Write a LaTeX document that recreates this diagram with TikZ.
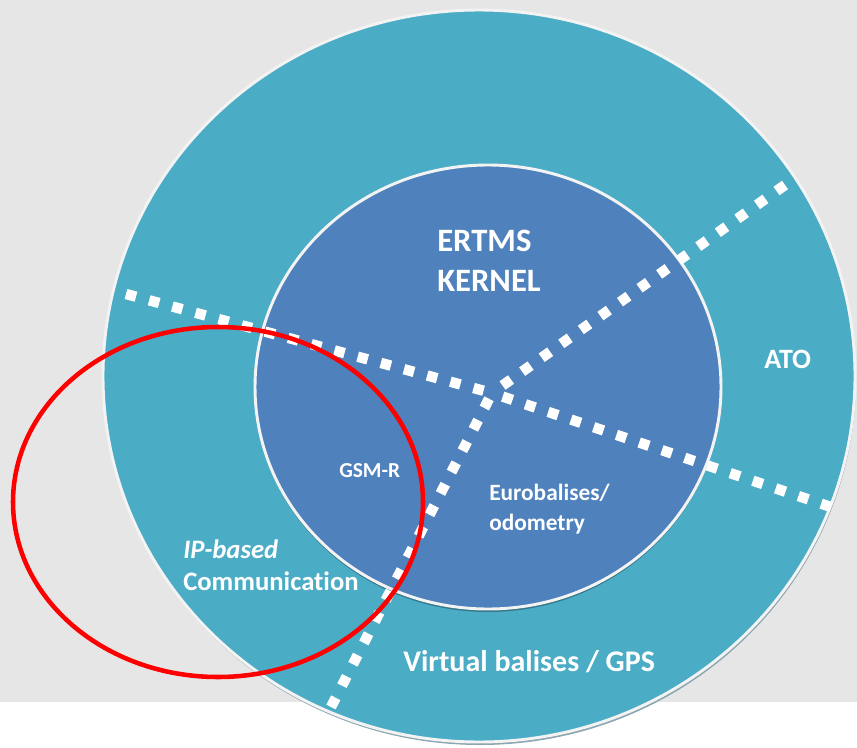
\documentclass[tikz,border=0pt]{standalone}
\usepackage{fontspec}
\setmainfont{Carlito}[Ligatures=NoCommon]
\usetikzlibrary{positioning}
\definecolor{paper}{RGB}{230,230,230}
\definecolor{ring}{RGB}{75,172,198}
\definecolor{kernel}{RGB}{79,129,189}
\definecolor{rim}{RGB}{243,243,243}
\definecolor{halo}{RGB}{138,166,176}
\definecolor{signal}{RGB}{255,0,0}
\tikzset{
  zone/.style={text=white,font=\bfseries\fontsize{#1}{#1}\selectfont,
    inner sep=0pt,anchor=base west},
  zone/.default=20,
  divider/.style={draw=white,line width=7.8pt,dash pattern=on 7.8pt off 10.2pt},
  rim line/.style={draw=rim,line width=2.2pt},
}

\begin{document}
\begin{tikzpicture}[x=0.75pt,y=-0.75pt]
  \useasboundingbox (0,0) rectangle (857,747);
  % backdrop
  \fill[paper] (0,0) rectangle (857,702);
  % outer ring and its shadow
  \fill[halo] (480,379) ellipse [x radius=376,y radius=366];
  \filldraw[fill=ring,rim line] (479,376) ellipse [x radius=376,y radius=366];
  % kernel disc
  \fill[ring!70!black] (488,390) ellipse [x radius=233,y radius=222];
  \filldraw[fill=kernel,rim line] (488,387) ellipse [x radius=233,y radius=222];

  % sector dividers
  \coordinate (hub) at (492,393);
  \coordinate (west end) at (126,294);
  \coordinate (east end) at (831,507);
  \coordinate (north end) at (785,185);
  \coordinate (south end) at (331,707);
  \draw[divider] (west end) -- (hub);
  \draw[divider] (east end) -- (hub);
  \draw[divider] (north end) -- (hub);
  \draw[divider] (south end) -- (hub);

  % labels
  \node[zone=24.5] (ertms) at (437,251) {ERTMS};
  \node[zone=24.5] (kernel) at (437,291) {KERNEL};
  \node[zone=21] (ato) at (764,368) {ATO};
  \node[zone=16] (gsmr) at (339,477) {GSM-R};
  \node[zone=17.5] (euro) at (489,500) {Eurobalises/};
  \node[zone=17.5] (odo) at (489,530) {odometry};
  \node[zone=20] (ip) at (183,558) {\itshape IP-based};
  \node[zone=20] (comm) at (183,590) {Communication};
  \node[zone=22.5] (gps) at (403,671) {Virtual balises / GPS};

  % highlight
  \draw[signal,line width=3.4pt] (218,502) ellipse [x radius=205,y radius=175];
\end{tikzpicture}
\end{document}
